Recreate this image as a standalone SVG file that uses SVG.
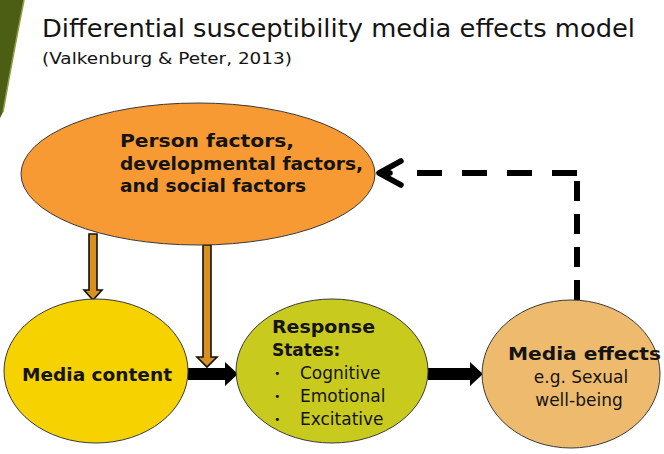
<svg xmlns="http://www.w3.org/2000/svg" width="664" height="454" viewBox="0 0 664 454">
<defs>
<style>
.node{stroke:#3a3a3a;stroke-width:1}
.t{font-family:"DejaVu Sans",Verdana,sans-serif;fill:#141414}
.b{font-weight:bold;font-size:17px}
.n{font-size:17px}
.bul{font-size:11px}
.orange{fill:#D8911E;stroke:#111;stroke-width:1.6}
.dash{fill:none;stroke:#000;stroke-width:6}
</style>
</defs>
<rect width="664" height="454" fill="#ffffff"/>
<path d="M0,0 L24,0 Q14,50 3,112 L0,118 Z" fill="#4B5E14"/>
<path d="M24,0 Q14,50 3,112" fill="none" stroke="#8ea040" stroke-width="1.5"/>
<text class="t" x="42" y="37" font-size="25" textLength="593" lengthAdjust="spacingAndGlyphs">Differential susceptibility media effects model</text>
<text class="t" x="42" y="64" font-size="15" fill="#2a2a2a" textLength="250" lengthAdjust="spacingAndGlyphs">(Valkenburg &amp; Peter, 2013)</text>
<g id="connectors">
<path class="orange" d="M89,234 L97,234 L97,290 L102,290 L93,300 L84,290 L89,290 Z"/>
<path class="orange" d="M203,245 L211,245 L211,357 L217,357 L207,367 L197,357 L203,357 Z"/>
<path d="M188,368 L225,368 L225,362 L238,374 L225,386 L225,380 L188,380 Z" fill="#000"/>
<path d="M428,368 L470,368 L470,362 L483,374 L470,386 L470,380 L428,380 Z" fill="#000"/>
<path class="dash" d="M577,300 L577,180" stroke-dasharray="20 13"/>
<path class="dash" d="M577,173 L405,173" stroke-dasharray="25 20"/>
<path d="M401,161 L379,173 L401,185 M379,173 L390,173" fill="none" stroke="#000" stroke-width="5.5" stroke-linecap="round" stroke-linejoin="round"/>
</g>
<g id="person">
<ellipse class="node" cx="198" cy="174" rx="177" ry="71" fill="#F79A33"/>
<text class="t b"><tspan x="120" y="147" textLength="174" lengthAdjust="spacingAndGlyphs">Person factors,</tspan><tspan x="120" y="170" textLength="243" lengthAdjust="spacingAndGlyphs">developmental factors,</tspan><tspan x="120" y="192" textLength="186" lengthAdjust="spacingAndGlyphs">and social factors</tspan></text>
</g>
<g id="media-content">
<ellipse class="node" cx="96" cy="371" rx="92" ry="72" fill="#F5D200"/>
<text class="t b" x="22" y="381" font-size="18" textLength="150" lengthAdjust="spacingAndGlyphs">Media content</text>
</g>
<g id="response">
<ellipse class="node" cx="332" cy="371" rx="96" ry="72" fill="#C9CA1E"/>
<text class="t b"><tspan x="272" y="333" textLength="103" lengthAdjust="spacingAndGlyphs">Response</tspan><tspan x="272" y="356">States:</tspan></text>
<text class="t bul"><tspan x="274" y="377">•</tspan><tspan x="274" y="400">•</tspan><tspan x="274" y="423">•</tspan></text>
<text class="t n"><tspan x="300" y="379">Cognitive</tspan><tspan x="300" y="402">Emotional</tspan><tspan x="300" y="425">Excitative</tspan></text>
</g>
<g id="media-effects">
<ellipse class="node" cx="571" cy="374" rx="89" ry="74" fill="#EEBB6E"/>
<text class="t b" x="508" y="360" font-size="18.5" textLength="153" lengthAdjust="spacingAndGlyphs">Media effects</text>
<text class="t n" font-size="18" text-anchor="middle"><tspan x="581" y="383">e.g. Sexual</tspan><tspan x="579" y="406">well-being</tspan></text>
</g>
</svg>
